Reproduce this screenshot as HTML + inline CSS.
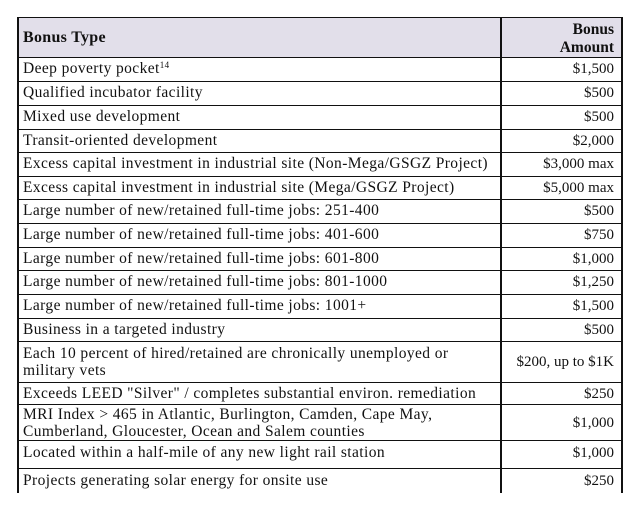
<!DOCTYPE html>
<html><head><style>
body{margin:0;background:#fff;width:638px;height:513px;overflow:hidden;font-family:"Liberation Serif",serif;color:#111;}
.t{position:absolute;left:17px;top:17px;width:605px;}
.r{position:absolute;left:0;width:605px;border-top:1.5px solid #111;box-sizing:border-box;}
.a{position:absolute;left:6px;font-size:15.5px;letter-spacing:0.4px;line-height:16px;white-space:nowrap;}
.b{position:absolute;right:8px;font-size:15px;letter-spacing:0px;line-height:16px;text-align:right;white-space:nowrap;}
.vl{position:absolute;top:0;width:1.5px;background:#111;height:476px;}
sup{font-size:9px;line-height:0;vertical-align:5px;}
</style></head><body>
<div class="t">
<div class="r" style="top:0;height:40px;background:#e2dfea;"><div class="a" style="top:12px;font-weight:bold;font-size:16px;letter-spacing:0.3px">Bonus Type</div><div class="b" style="top:3px;font-weight:bold;font-size:15.5px;line-height:18px">Bonus<br>Amount</div></div>
<div class="r" style="top:40px;height:24px"><div class="a" style="top:3px">Deep poverty pocket<sup>14</sup></div><div class="b" style="top:3px">$1,500</div></div>
<div class="r" style="top:64px;height:24px"><div class="a" style="top:3px">Qualified incubator facility</div><div class="b" style="top:3px">$500</div></div>
<div class="r" style="top:88px;height:24px"><div class="a" style="top:3px">Mixed use development</div><div class="b" style="top:3px">$500</div></div>
<div class="r" style="top:112px;height:23px"><div class="a" style="top:3px">Transit-oriented development</div><div class="b" style="top:3px">$2,000</div></div>
<div class="r" style="top:135px;height:24px"><div class="a" style="top:3px">Excess capital investment in industrial site (Non-Mega/GSGZ Project)</div><div class="b" style="top:3px">$3,000 max</div></div>
<div class="r" style="top:159px;height:23px"><div class="a" style="top:3px">Excess capital investment in industrial site (Mega/GSGZ Project)</div><div class="b" style="top:3px">$5,000 max</div></div>
<div class="r" style="top:182px;height:24px"><div class="a" style="top:3px">Large number of new/retained full-time jobs: 251-400</div><div class="b" style="top:3px">$500</div></div>
<div class="r" style="top:206px;height:24px"><div class="a" style="top:3px">Large number of new/retained full-time jobs: 401-600</div><div class="b" style="top:3px">$750</div></div>
<div class="r" style="top:230px;height:23px"><div class="a" style="top:3px">Large number of new/retained full-time jobs: 601-800</div><div class="b" style="top:3px">$1,000</div></div>
<div class="r" style="top:253px;height:24px"><div class="a" style="top:3px">Large number of new/retained full-time jobs: 801-1000</div><div class="b" style="top:3px">$1,250</div></div>
<div class="r" style="top:277px;height:24px"><div class="a" style="top:3px">Large number of new/retained full-time jobs: 1001+</div><div class="b" style="top:3px">$1,500</div></div>
<div class="r" style="top:301px;height:23px"><div class="a" style="top:3px">Business in a targeted industry</div><div class="b" style="top:3px">$500</div></div>
<div class="r" style="top:324px;height:41px"><div class="a" style="top:3px;line-height:17px">Each 10 percent of hired/retained are chronically unemployed or<br>military vets</div><div class="b" style="top:12px">$200, up to $1K</div></div>
<div class="r" style="top:365px;height:22px"><div class="a" style="top:3px">Exceeds LEED "Silver" / completes substantial environ. remediation</div><div class="b" style="top:3px">$250</div></div>
<div class="r" style="top:387px;height:36px"><div class="a" style="top:1px;line-height:17px">MRI Index &gt; 465 in Atlantic, Burlington, Camden, Cape May,<br>Cumberland, Gloucester, Ocean and Salem counties</div><div class="b" style="top:10px">$1,000</div></div>
<div class="r" style="top:423px;height:28px"><div class="a" style="top:4px">Located within a half-mile of any new light rail station</div><div class="b" style="top:4px">$1,000</div></div>
<div class="r" style="top:451px;height:25px"><div class="a" style="top:4px">Projects generating solar energy for onsite use</div><div class="b" style="top:4px">$250</div></div>
<div class="vl" style="left:0"></div>
<div class="vl" style="left:483px"></div>
<div class="vl" style="left:604px"></div>
</div>
</body></html>
